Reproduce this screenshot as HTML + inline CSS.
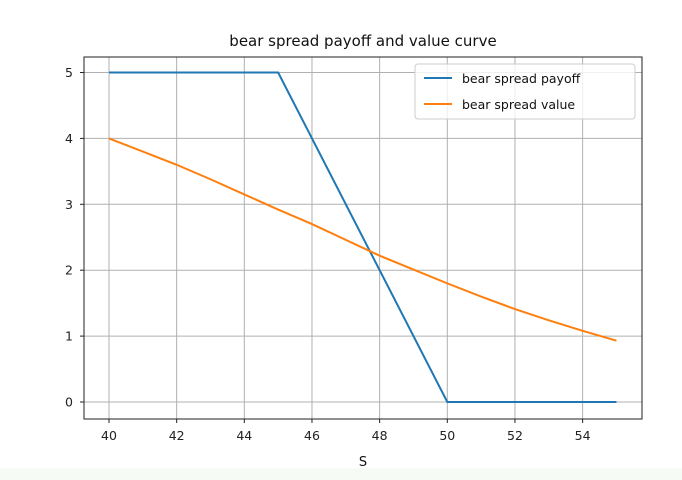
<!DOCTYPE html>
<html><head><meta charset="utf-8"><style>
body{margin:0;background:#fff;}
svg{display:block;font-family:"DejaVu Sans","Liberation Sans",sans-serif;}
</style></head><body>
<svg id="chart" width="682" height="480">
<rect x="0" y="468" width="682" height="12" fill="#f6fbf6"/>
<text x="363" y="46" font-size="15" text-anchor="middle" fill="#111">bear spread payoff and value curve</text>
<g id="grid"></g>
<g id="series"></g>
<rect x="84" y="57" width="558" height="362" fill="none" stroke="#222" stroke-width="1"/>
<g id="ticks"></g>
<text x="363" y="466" font-size="13" text-anchor="middle" fill="#111">S</text>
<g>
<rect x="415" y="64" width="220" height="55" rx="3" fill="#fff" fill-opacity="0.8" stroke="#ccc"/>
<line x1="424" y1="78" x2="452" y2="78" stroke="#1f77b4" stroke-width="2"/>
<text x="462" y="83" font-size="12.5" fill="#111">bear spread payoff</text>
<line x1="424" y1="104" x2="452" y2="104" stroke="#ff7f0e" stroke-width="2"/>
<text x="462" y="109" font-size="12.5" fill="#111">bear spread value</text>
</g>
</svg>
<script>
const payoffS=[40,45,50,55];
const payoffV=[5,5,0,0];
const valueS=[40,41,42,43,44,45,46,47,48,49,50,51,52,53,54,55];
const valueV=[4.0,3.8,3.6,3.38,3.15,2.92,2.7,2.46,2.22,2.01,1.8,1.6,1.41,1.24,1.08,0.93];
const xTicks=[40,42,44,46,48,50,52,54];
const yTicks=[0,1,2,3,4,5];
const NS='http://www.w3.org/2000/svg';
const xs=v=>109+(v-40)*33.83;
const ys=v=>402-v*65.9;
function mk(t,a,p){const e=document.createElementNS(NS,t);for(const k in a)e.setAttribute(k,a[k]);p.appendChild(e);return e;}
const g=document.getElementById('grid'),tk=document.getElementById('ticks'),s=document.getElementById('series');
xTicks.forEach(v=>{
 const l=mk('line',{x1:xs(v),x2:xs(v),y1:57,y2:419,stroke:'#b0b0b0','stroke-width':1},g);
 
 
 mk('line',{x1:xs(v),x2:xs(v),y1:419,y2:423,stroke:'#222'},tk);
 const t=mk('text',{x:xs(v),y:440,'font-size':12.5,'text-anchor':'middle',fill:'#222'},tk);t.textContent=v;
 
 
});
yTicks.forEach(v=>{
 const l=mk('line',{x1:84,x2:642,y1:ys(v),y2:ys(v),stroke:'#b0b0b0','stroke-width':1},g);
 
 
 mk('line',{x1:80,x2:84,y1:ys(v),y2:ys(v),stroke:'#222'},tk);
 const t=mk('text',{x:73,y:ys(v)+4.5,'font-size':12.5,'text-anchor':'end',fill:'#222'},tk);t.textContent=v;
 
 
});
const p1=mk('polyline',{points:payoffS.map((x,i)=>xs(x)+','+ys(payoffV[i])).join(' '),fill:'none',stroke:'#1f77b4','stroke-width':2},s);


const p2=mk('polyline',{points:valueS.map((x,i)=>xs(x)+','+ys(valueV[i])).join(' '),fill:'none',stroke:'#ff7f0e','stroke-width':2},s);


</script>
</body></html>
